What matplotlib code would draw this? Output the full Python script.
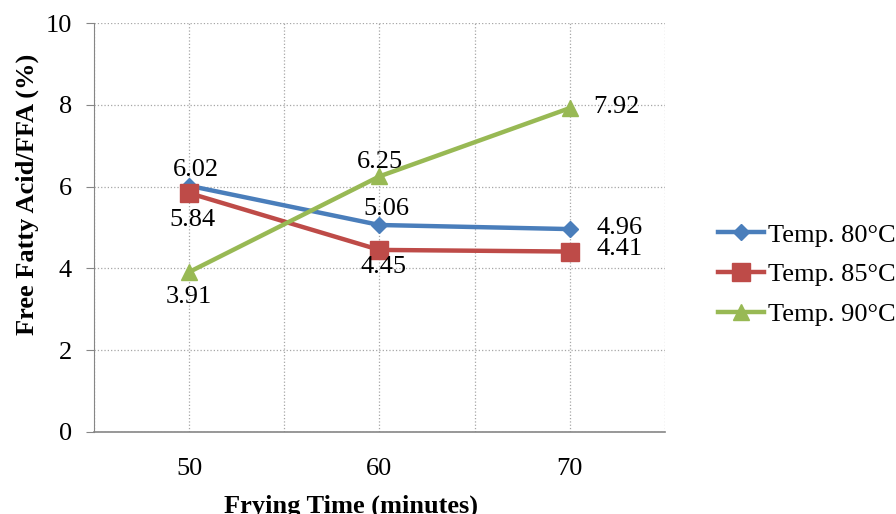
import matplotlib.pyplot as plt
from matplotlib.ticker import MultipleLocator

plt.rcParams['font.family'] = ['Liberation Serif', 'DejaVu Serif']

# data
times = ['50', '60', '70']
temp_80 = [6.02, 5.06, 4.96]
temp_85 = [5.84, 4.45, 4.41]
temp_90 = [3.91, 6.25, 7.92]
series_names = ['Temp. 80°C', 'Temp. 85°C', 'Temp. 90°C']

# label offsets in points (dx, dy) and alignment, one per point
off_80 = [((5, 11), 'center'), ((5, 11.5), 'center'), ((19, 0.5), 'left')]
off_85 = [((2, -19), 'center'), ((3, -12), 'center'), ((19, 1.5), 'left')]
off_90 = [((0, -18), 'center'), ((0, 10), 'center'), ((17, 0.5), 'left')]

fs = 19

fig = plt.figure(figsize=(8.96, 5.14), dpi=100)
ax = fig.add_axes([0.105, 0.16, 0.637, 0.795])

x = list(range(len(times)))
ax.plot(x, temp_80, color='#4A7EBB', lw=3.2, marker='D', ms=8.5, label=series_names[0], zorder=3)
ax.plot(x, temp_85, color='#BE4B48', lw=3.2, marker='s', ms=13, label=series_names[1], zorder=3)
ax.plot(x, temp_90, color='#98B954', lw=3.2, marker='^', ms=12, label=series_names[2], zorder=3)

for vals, offs in [(temp_80, off_80), (temp_85, off_85), (temp_90, off_90)]:
    for i, v in enumerate(vals):
        (dx, dy), ha = offs[i]
        ax.annotate(f'{v:.2f}', (i, v), xytext=(dx, dy), textcoords='offset points',
                    ha=ha, va='center', fontsize=fs, zorder=4)

ax.set_xlim(-0.5, 2.5)
ax.set_ylim(0, 10)
ax.set_xticks(x)
ax.set_xticklabels(times, fontsize=fs)
ax.xaxis.set_minor_locator(MultipleLocator(1, offset=0.5))
ax.yaxis.set_major_locator(MultipleLocator(2))
ax.tick_params(axis='y', labelsize=fs, length=6, color='#868686', pad=10)
ax.tick_params(axis='x', which='both', length=0, pad=19)

ax.grid(True, which='both', axis='x', color='#A6A6A6', ls=':', lw=0.9)
ax.grid(True, which='major', axis='y', color='#A6A6A6', ls=':', lw=0.9)
ax.set_axisbelow(True)
for side in ['top', 'right']:
    ax.spines[side].set_visible(False)
ax.spines['left'].set_color('#868686')
ax.spines['bottom'].set_color('#868686')
ax.spines['bottom'].set_linewidth(1.2)

ax.set_xlabel('Frying Time (minutes)', fontsize=fs, fontweight='bold')
ax.xaxis.set_label_coords(0.45, -0.153)
ax.xaxis.label.set_va('top')
ax.set_ylabel('Free Fatty Acid/FFA (%)', fontsize=fs, fontweight='bold')
ax.yaxis.set_label_coords(-0.097, 0.58)

fig.legend(loc='upper left', bbox_to_anchor=(0.801, 0.566), frameon=False, fontsize=fs,
           handlelength=1.75, handletextpad=0.15, labelspacing=0.62, borderaxespad=0, borderpad=0)

fig.savefig('out.png', dpi=100)
